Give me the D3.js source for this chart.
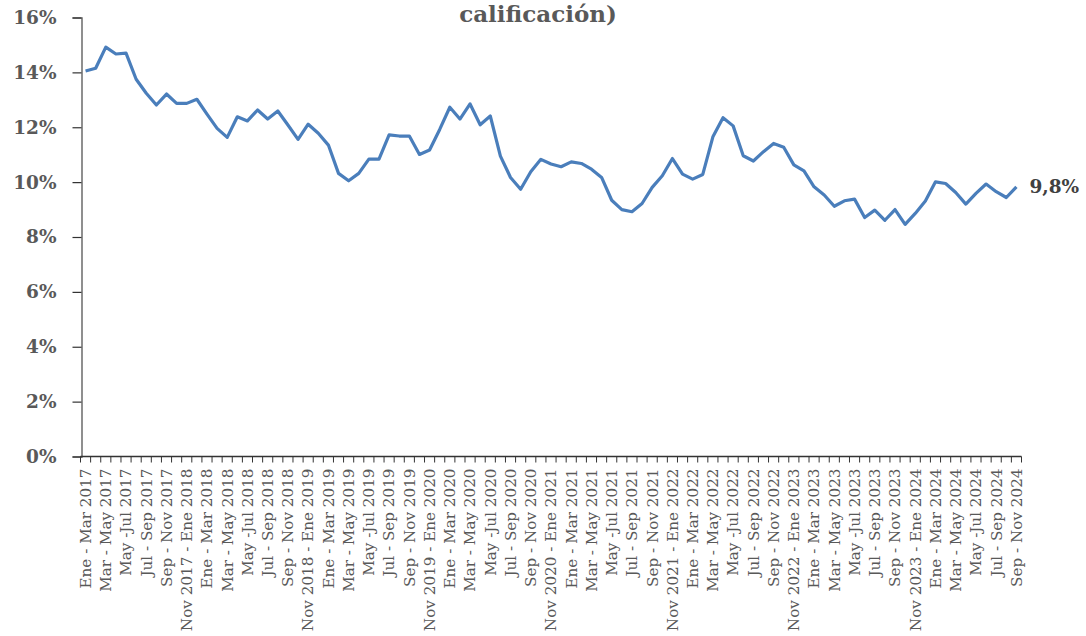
<!DOCTYPE html>
<html>
<head>
<meta charset="utf-8">
<script src="https://cdn.jsdelivr.net/npm/d3@7"></script>
<style>
  html, body { margin: 0; padding: 0; background: #ffffff; }
  svg { display: block; }
</style>
</head>
<body>
<svg id="chart" width="1086" height="636"></svg>
<script>
// ---- DATA ----
const periods = ["Ene - Mar", "Feb - Abr", "Mar - May", "Abr - Jun", "May -Jul", "Jun - Ago",
                 "Jul - Sep", "Ago - Oct", "Sep - Nov", "Oct - Dic", "Nov", "Dic - Feb"];
const years = [2017, 2018, 2019, 2020, 2021, 2022, 2023, 2024];

// build category labels (rolling 3-month windows)
const categories = [];
years.forEach(y => {
  for (let m = 0; m < 12; m++) {
    if (y === 2024 && m > 8) break;
    let lab;
    if (m === 10) lab = "Nov " + y + " - Ene " + (y + 1);
    else if (m === 11) lab = "Dic " + y + " - Feb " + (y + 1);
    else lab = periods[m] + " " + y;
    categories.push(lab);
  }
});

const values = [
  14.05, 14.15, 14.92, 14.67, 14.70, 13.75, 13.24, 12.81, 13.21, 12.87, 12.87, 13.02,
  12.48, 11.96, 11.63, 12.38, 12.23, 12.63, 12.30, 12.59, 12.08, 11.56, 12.11, 11.78,
  11.35, 10.32, 10.05, 10.32, 10.84, 10.84, 11.72, 11.68, 11.68, 11.01, 11.17, 11.92,
  12.73, 12.30, 12.85, 12.09, 12.41, 10.95, 10.17, 9.74, 10.38, 10.83, 10.66, 10.56,
  10.74, 10.68, 10.47, 10.17, 9.34, 9.00, 8.92, 9.22, 9.81, 10.23, 10.86, 10.29,
  10.11, 10.28, 11.65, 12.35, 12.05, 10.96, 10.77, 11.11, 11.41, 11.27, 10.63, 10.41,
  9.83, 9.53, 9.12, 9.32, 9.38, 8.71, 8.98, 8.61, 9.00, 8.46, 8.86, 9.31,
  10.01, 9.95, 9.62, 9.20, 9.59, 9.93, 9.65, 9.44, 9.83
];

const yTicks = [0, 2, 4, 6, 8, 10, 12, 14, 16];
const titleText = "calificación)";
const lastLabel = "9,8%";

// ---- DRAW ----
const svg = d3.select("#chart");
const FONT = "'DejaVu Serif', 'Liberation Serif', serif";
const TXT = "#595959";

const x = d3.scaleBand().domain(categories).range([80.5, 1021.5]).padding(0);
const cx = c => x(c) + x.bandwidth() / 2;
const y = d3.scaleLinear().domain([0, 16]).range([456.5, 17.5]);

// title (second line visible)
svg.append("text")
  .attr("x", 538).attr("y", 22)
  .attr("text-anchor", "middle")
  .attr("font-family", FONT).attr("font-weight", "bold")
  .attr("font-size", 23).attr("fill", TXT)
  .text(titleText);

// y axis
const yAxis = d3.axisLeft(y).tickValues(yTicks)
  .tickFormat(d => d + "%").tickSize(9).tickPadding(16);
const gy = svg.append("g").attr("transform", "translate(81.5,0)").call(yAxis);
gy.select(".domain").attr("stroke", "#6b6b6b").attr("stroke-width", 1.5);
gy.selectAll(".tick line").attr("stroke", "#333").attr("stroke-width", 1.2);
gy.selectAll(".tick text")
  .attr("font-family", FONT).attr("font-weight", "bold")
  .attr("font-size", 18.5).attr("fill", TXT);

// x axis line
svg.append("line")
  .attr("x1", x.range()[0]).attr("x2", x.range()[1])
  .attr("y1", y(0)).attr("y2", y(0))
  .attr("stroke", "#333").attr("stroke-width", 1.5);

// x ticks at band boundaries
const bounds = categories.map(c => x(c)).concat([x(categories[categories.length - 1]) + x.bandwidth()]);
svg.append("g").selectAll("line").data(bounds).join("line")
  .attr("x1", d => d).attr("x2", d => d)
  .attr("y1", y(0)).attr("y2", y(0) + 6)
  .attr("stroke", "#333").attr("stroke-width", 1);

// x labels every second category
svg.append("g").selectAll("text")
  .data(categories.filter((c, i) => i % 2 === 0))
  .join("text")
  .attr("transform", d => `translate(${cx(d)},${y(0) + 12}) rotate(-90)`)
  .attr("text-anchor", "end")
  .attr("dy", "0.35em")
  .attr("font-family", FONT)
  .attr("font-size", 15.2)
  .attr("fill", TXT)
  .text(d => d);

// line
const line = d3.line()
  .x((d, i) => cx(categories[i]))
  .y(d => y(d));
svg.append("path")
  .datum(values)
  .attr("d", line)
  .attr("fill", "none")
  .attr("stroke", "#4a7ebb")
  .attr("stroke-width", 3.2)
  .attr("stroke-linejoin", "round");

// end label
const lastCat = categories[categories.length - 1];
svg.append("text")
  .attr("x", cx(lastCat) + 13)
  .attr("y", y(values[values.length - 1]))
  .attr("dy", "0.35em")
  .attr("font-family", FONT).attr("font-weight", "bold")
  .attr("font-size", 18.5).attr("fill", "#404040")
  .text(lastLabel);
</script>
</body>
</html>
